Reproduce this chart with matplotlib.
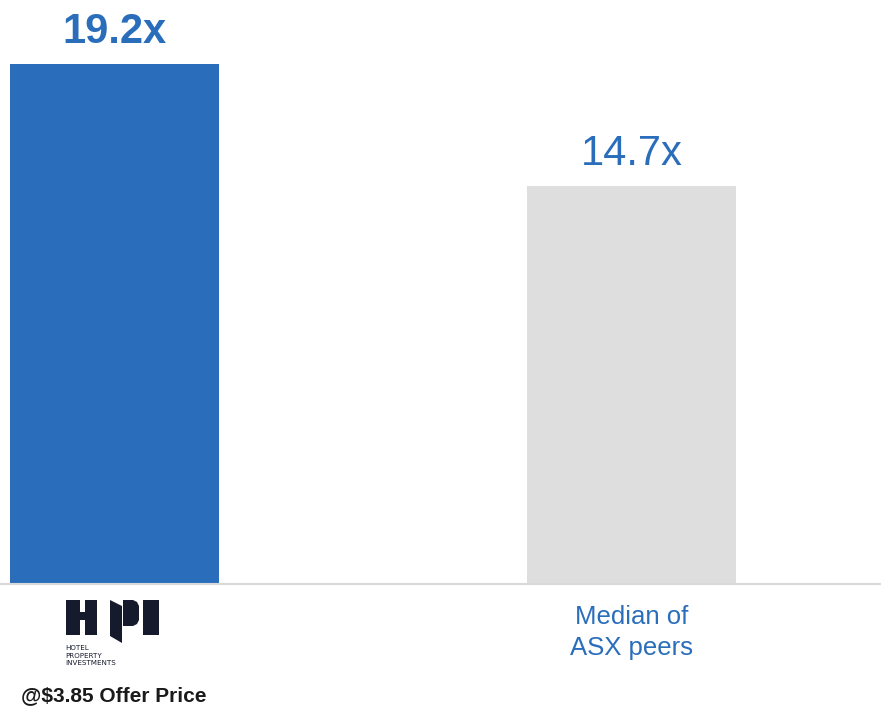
import matplotlib
matplotlib.use("Agg")
import matplotlib.pyplot as plt
from matplotlib.patches import Polygon

categories = ["HPI @$3.85 Offer Price", "Median of\nASX peers"]
values = [19.2, 14.7]
value_labels = ["19.2x", "14.7x"]
bar_colors = ["#2A6EBB", "#DEDEDE"]
label_weights = ["bold", "normal"]

W, H = 881, 706
fig = plt.figure(figsize=(W / 100, H / 100), dpi=100)
base_px = 584
ax = fig.add_axes([0, 1 - base_px / H, 1, base_px / H])

x = [0, 1]
ax.bar(x, values, width=0.404, color=bar_colors, zorder=2)
ax.set_xlim(-0.2215, 1.4826)
ax.set_ylim(0, 21.56)
for s in ["top", "right", "left"]:
    ax.spines[s].set_visible(False)
ax.spines["bottom"].set_color("#D9D9D9")
ax.spines["bottom"].set_linewidth(1.5)
ax.set_yticks([])
ax.set_xticks([])

for xi, v, lab, w in zip(x, values, value_labels, label_weights):
    ax.annotate(lab, (xi, v), xytext=(0, 15), textcoords="offset points",
                ha="center", va="baseline", fontsize=30, color="#2A6EBB",
                fontweight=w, family=["Liberation Sans", "DejaVu Sans"])

# category label for second bar
ax.annotate(categories[1], (x[1], 0), xytext=(0, -15), textcoords="offset points",
            ha="center", va="top", fontsize=18.5, color="#2A6EBB",
            linespacing=1.4, family=["Liberation Sans", "DejaVu Sans"])

# first bar label: logo + offer price text
fig.text(114 / W, 1 - 696 / H, "@$3.85 Offer Price", ha="center", va="center",
         fontsize=15, fontweight="bold", color="#1A1A1A",
         family=["Liberation Sans", "DejaVu Sans"])

logo_color = "#151A2C"

def px(pts):
    return [(a / W, 1 - b / H) for a, b in pts]

shapes = [
    [(66, 600), (80, 600), (80, 612), (85, 612), (85, 600), (97, 600),
     (97, 635), (85, 635), (85, 620), (80, 620), (80, 635), (66, 635)],
    [(110, 600), (122, 606), (122, 643), (110, 636)],
    [(123, 600), (133, 600), (137, 602), (139, 606), (139, 620), (137, 624),
     (133, 626), (123, 626)],
    [(143, 600), (159, 600), (159, 635), (143, 635)],
]
for sh in shapes:
    fig.patches.append(Polygon(px(sh), closed=True, transform=fig.transFigure,
                               facecolor=logo_color, edgecolor="none"))

fig.text(65 / W, 1 - 645 / H, "HOTEL\nPROPERTY\nINVESTMENTS", ha="left", va="top",
         fontsize=5.1, color=logo_color, linespacing=1.3,
         family=["Liberation Sans Narrow", "DejaVu Sans"])

fig.savefig("out.png", dpi=100)
